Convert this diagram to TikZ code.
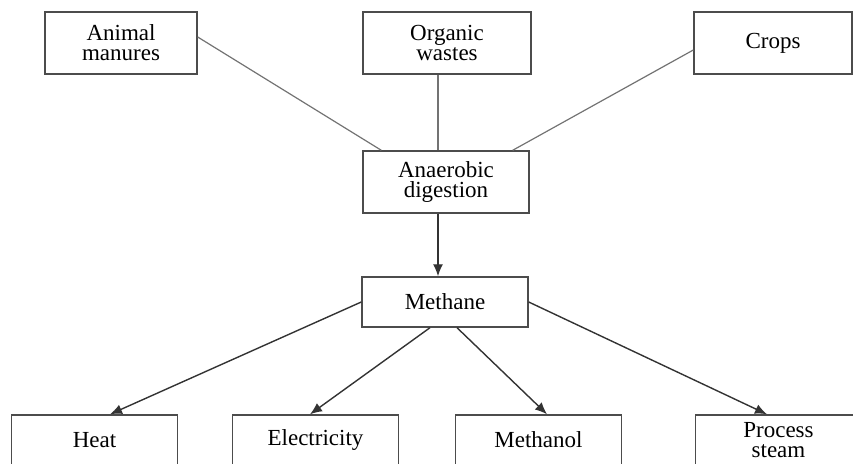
\documentclass[tikz,border=0pt]{standalone}
\usepackage{fontspec}
\setmainfont{Liberation Serif}
\usetikzlibrary{arrows.meta, positioning}

\begin{document}
\begin{tikzpicture}[x=0.5pt, y=-0.5pt,
    box/.style={rectangle, draw=black!70, line width=0.7pt, minimum width=#1,
                minimum height=31pt, align=center, inner sep=0pt,
                font=\fontsize{11.5}{10}\selectfont},
    box/.default=83pt,
    outbox/.style={box, minimum height=25pt},
    feed/.style={line width=0.6pt, black!55},
    arrow/.style={-{Latex[length=6pt, width=5pt]}, line width=0.7pt, black!80}
  ]
    \clip (0,0) rectangle (853,464);

    % sources
    \node[box=76pt] (manures) at (121,43) {Animal\\manures};
    \node[box=84pt] (organic) at (447,43) {Organic\\wastes};
    \node[box=79pt] (crops) at (773,43) {Crops};

    \node[box] (anaerobic) at (446,182) {Anaerobic\\digestion};
    \node[outbox] (methane) at (445,302) {Methane};

    % uses
    \node[outbox] (heat) at (94.5,440) {Heat};
    \node[outbox] (electricity) at (315.5,440) {Electricity};
    \node[outbox] (methanol) at (538.5,440) {Methanol};
    \node[outbox] (steam) at (778.5,440) {Process\\steam};

    \draw[feed] ([yshift=3pt]manures.east) -- ([xshift=9.5pt]anaerobic.north west);
    \draw[feed] ([xshift=-4.5pt]organic.south) -- ([xshift=-4pt]anaerobic.north);
    \draw[feed] ([yshift=-3.5pt]crops.west) -- ([xshift=-8.5pt]anaerobic.north east);

    \draw[arrow] ([xshift=-4pt]anaerobic.south) -- ([xshift=-3.5pt]methane.north);

    \draw[arrow] (methane.west) -- ([xshift=7.75pt]heat.north);
    \draw[arrow] ([xshift=-7.5pt]methane.south) -- ([xshift=-2.75pt]electricity.north);
    \draw[arrow] ([xshift=6pt]methane.south) -- ([xshift=4.25pt]methanol.north);
    \draw[arrow] (methane.east) -- ([xshift=-5.75pt]steam.north);
  \end{tikzpicture}
\end{document}
